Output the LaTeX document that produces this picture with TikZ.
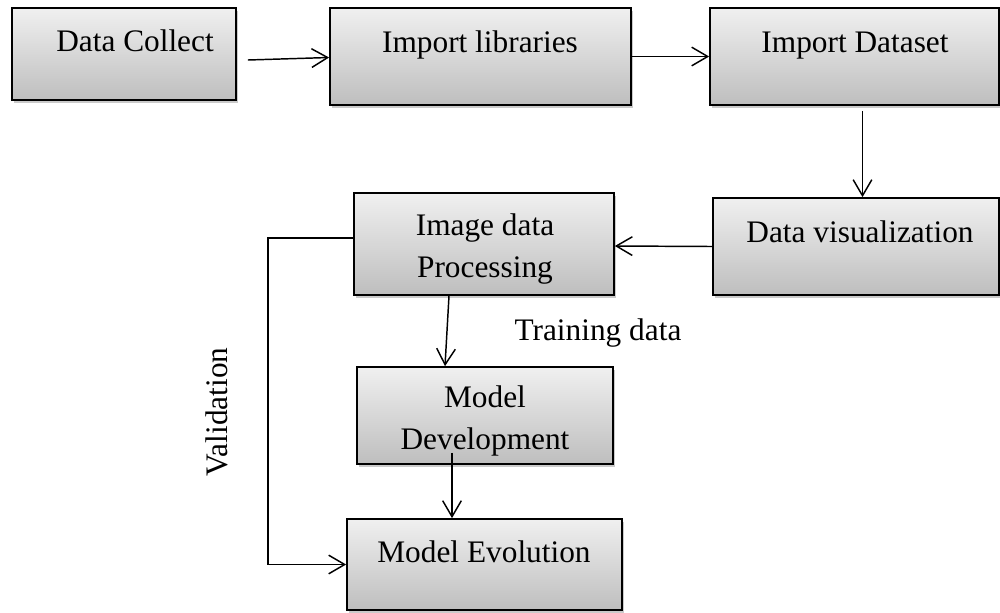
\documentclass[tikz,border=0pt]{standalone}
\usepackage{fontspec}
\setmainfont{Liberation Serif}
\usetikzlibrary{arrows.meta,calc,fit,shadows}
\definecolor{boxtop}{RGB}{240,240,240}
\definecolor{boxbot}{RGB}{190,190,190}
\begin{document}
\begin{tikzpicture}[x=0.75pt,y=-0.75pt,
  box/.style={draw=black, line width=1.3pt, top color=boxtop, bottom color=boxbot, inner sep=0pt,
    drop shadow={shadow xshift=1.5pt, shadow yshift=-2pt, opacity=0.35, fill=black!60}},
  lbl/.style={font=\fontsize{23.5}{31.5}\selectfont, inner sep=0pt, align=center},
  conn/.style={line width=1.1pt, -{Straight Barb[length=12pt,width=14pt,line width=1.1pt]}}
]
\useasboundingbox (0,0) rectangle (1000,612);
\node[box, fit={(12,8) (236,100)}] (dc) {};
\node[box, fit={(330,8) (631,105)}] (il) {};
\node[box, fit={(710,8) (999,105)}] (id) {};
\node[box, fit={(713,198) (999,295)}] (dv) {};
\node[box, fit={(354,193) (614,295)}] (ip) {};
\node[box, fit={(357,367) (613,464)}] (md) {};
\node[box, fit={(347,519) (622,610)}] (me) {};

\node[lbl, anchor=base] (dct) at (135,51) {Data Collect};
\node[lbl, anchor=base] (ilt) at (480,52) {Import libraries};
\node[lbl, anchor=base] (idt) at (855,52) {Import Dataset};
\node[lbl, anchor=base] (dvt) at (860,242) {Data visualization};
\node[lbl, anchor=base] (ipt) at (485,277) {Image data\\Processing};
\node[lbl, anchor=base] (mdt) at (485,449) {Model\\Development};
\node[lbl, anchor=base] (met) at (484,562) {Model Evolution};
\node[lbl, anchor=base] (trn) at (598,340) {Training data};
\node[lbl, anchor=base, rotate=90] (val) at (227,412) {Validation};

\draw[conn] ($(dc.east)+(11,6)$) -- ($(il.west)+(0,1)$);
\draw[conn] (il.east) -- (id.west);
\draw[conn] ($(id.south)+(8,5)$) -- ($(dv.north)+(6.5,0)$);
\draw[conn] (dv.west) -- ($(ip.east)+(0,2)$);
\draw[conn] ($(ip.south)+(-35,0)$) -- ($(md.north)+(-40,0)$);
\draw[conn] ($(md.south)+(-33,-12)$) -- ($(me.north)+(-32.5,0)$);
\draw[conn] ($(ip.west)+(0,-6)$) -- ++(-85,0) |- (me.west);
\end{tikzpicture}
\end{document}
